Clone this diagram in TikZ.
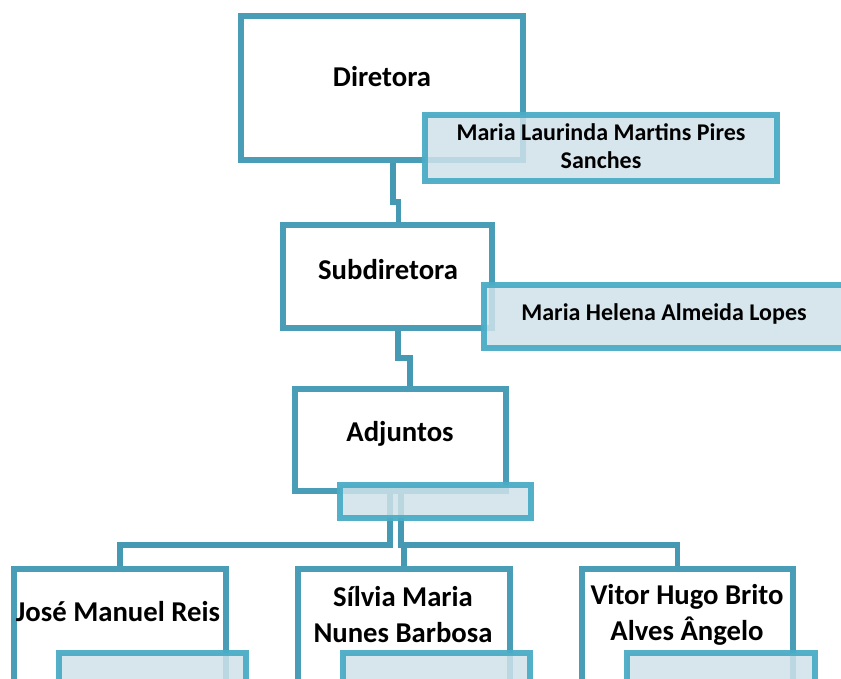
\documentclass[tikz,border=0pt]{standalone}
\usepackage{fontspec}
\setmainfont{Carlito}
\definecolor{mainborder}{HTML}{4A9DB6}
\definecolor{nameborder}{HTML}{4BACC6}
\definecolor{namefill}{HTML}{CFE2E9}
\definecolor{linkcol}{HTML}{4699B2}
\tikzset{
  mainbox/.style={draw=mainborder, line width=5.5pt, fill=white, rectangle, inner sep=0pt, outer sep=0pt},
  namebox/.style={draw=nameborder, line width=5.5pt, fill=namefill, fill opacity=0.85, draw opacity=0.95, rectangle, inner sep=0pt, outer sep=0pt},
  head/.style={font=\bfseries\fontsize{28.7}{36}\selectfont, align=center, inner sep=0pt},
  person/.style={font=\bfseries\fontsize{24}{28}\selectfont, align=center, inner sep=0pt},
  link/.style={draw=linkcol, line width=5.5pt}
}
\begin{document}
\begin{tikzpicture}[x=1pt,y=-1pt]
\useasboundingbox (0,0) rectangle (841,679);
\clip (0,0) rectangle (841,679);
% box positions
\node[mainbox, minimum width=282, minimum height=144] (dir) at (382,88) {};
\node[mainbox, minimum width=209, minimum height=103] (sub) at (387.5,276.5) {};
\node[mainbox, minimum width=211, minimum height=102] (adj) at (400.5,440) {};
\node[mainbox, minimum width=212, minimum height=131] (jose) at (120,634.5) {};
\node[mainbox, minimum width=212, minimum height=131] (silvia) at (404,634.5) {};
\node[mainbox, minimum width=211, minimum height=131] (vitor) at (687.5,634.5) {};
% connectors
\coordinate (j1) at (0,202);
\coordinate (j2) at (0,358);
\coordinate (j3) at (0,545);
\draw[link] ([xshift=11pt]dir.south) -- ([xshift=11pt]dir.south |- j1) -- ([xshift=11pt]sub.north |- j1) -- ([xshift=11pt]sub.north);
\draw[link] ([xshift=10.5pt]sub.south) -- ([xshift=10.5pt]sub.south |- j2) -- ([xshift=9.5pt]adj.north |- j2) -- ([xshift=9.5pt]adj.north);
\draw[link] ([xshift=-10.5pt]adj.south) -- ([xshift=-10.5pt]adj.south |- j3) -- (jose.north |- j3) -- (jose.north);
\draw[link] ([xshift=0.5pt]adj.south) -- ([xshift=0.5pt]adj.south |- j3) -- (silvia.north |- j3) -- (silvia.north);
\draw[link] ([xshift=0.5pt]adj.south |- j3) -- ([xshift=-10pt]vitor.north |- j3) -- ([xshift=-10pt]vitor.north);
% boxes over connector ends
\node[mainbox, minimum width=282, minimum height=144] at (dir) {};
\node[mainbox, minimum width=209, minimum height=103] at (sub) {};
\node[mainbox, minimum width=211, minimum height=102] at (adj) {};
\node[mainbox, minimum width=212, minimum height=131] at (jose) {};
\node[mainbox, minimum width=212, minimum height=131] at (silvia) {};
\node[mainbox, minimum width=211, minimum height=131] at (vitor) {};
% heading texts
\node[head] (tdir) at (382,77) {Diretora};
\node[head] (tsub) at (388,270) {Subdiretora};
\node[head] (tadj) at (400,434) {Adjuntos};
\node[head] (tjose) at (118,612) {José Manuel Reis};
\node[head] (tsil) at (403,615) {Sílvia Maria\\Nunes Barbosa};
\node[head] (tvit) at (687,615) {Vitor Hugo Brito\\Alves Ângelo};
% name boxes
\node[namebox, minimum width=352, minimum height=66] (ndir) at (601,148) {};
\node[namebox, minimum width=366, minimum height=63] (nsub) at (667,316.5) {};
\node[namebox, minimum width=191, minimum height=33] (nadj) at (435.5,501.5) {};
\node[namebox, minimum width=187, minimum height=60] (njose) at (152.5,683) {};
\node[namebox, minimum width=187, minimum height=60] (nsil) at (436.5,683) {};
\node[namebox, minimum width=188, minimum height=60] (nvit) at (721,683) {};
\node[person] (pdir) at (601,146) {Maria Laurinda Martins Pires\\Sanches};
\node[person] (psub) at (664,314) {Maria Helena Almeida Lopes};
\end{tikzpicture}
\end{document}
